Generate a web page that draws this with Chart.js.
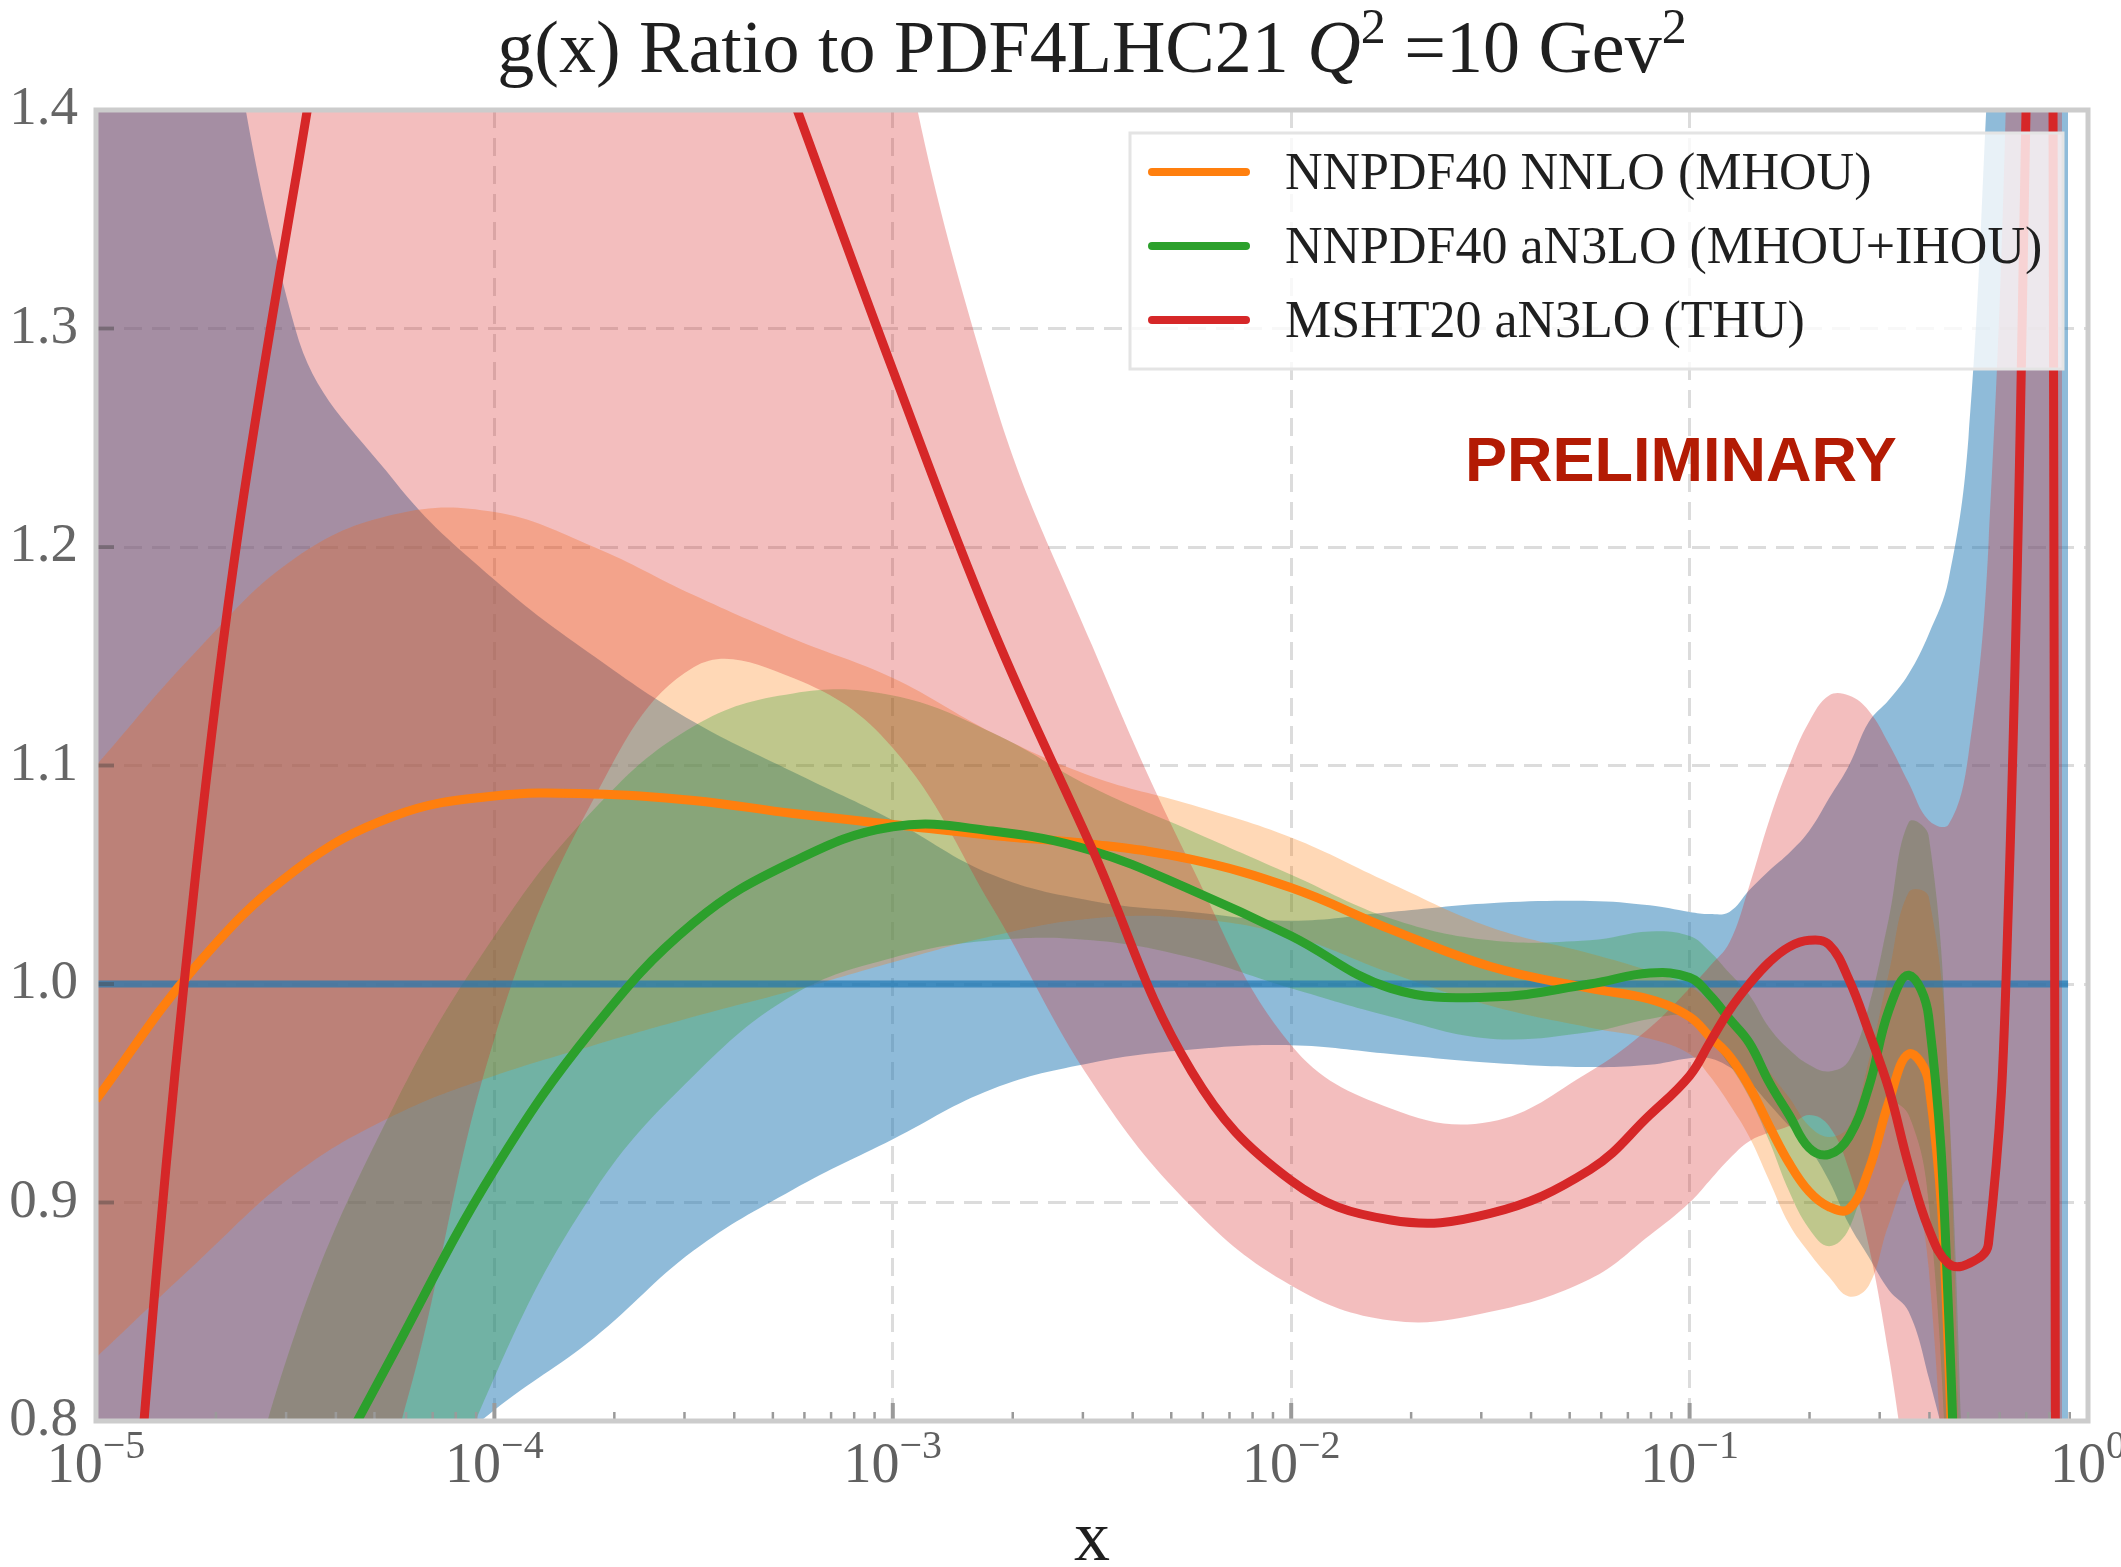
<!DOCTYPE html>
<html>
<head>
<meta charset="utf-8">
<title>g(x) Ratio to PDF4LHC21</title>
<script src="https://cdn.jsdelivr.net/npm/chart.js@4.4.1/dist/chart.umd.min.js"></script>
<style>
  html, body { margin: 0; padding: 0; background: #fff; }
</style>
</head>
<body>
<canvas id="ratioChart" width="2121" height="1567"></canvas>
<script>
// x grid, stored as log10(x)
const logX = [-5, -4.75, -4.5, -4.25, -4, -3.75, -3.5, -3.25, -3, -2.75,
  -2.5, -2.25, -2, -1.75, -1.5, -1.25, -1.1, -1, -0.95, -0.9,
  -0.85, -0.8, -0.75, -0.7, -0.65, -0.6, -0.55, -0.5, -0.45, -0.4,
  -0.35, -0.3, -0.25, -0.2, -0.15, -0.1, -0.09, -0.08, -0.065, -0.05];

// PDF4LHC21 (reference, blue)
const pdf4lhcCentral = [1, 1, 1, 1, 1, 1, 1, 1, 1, 1,
  1, 1, 1, 1, 1, 1, 1, 1, 1, 1,
  1, 1, 1, 1, 1, 1, 1, 1, 1, 1,
  1, 1, 1, 1, 1, 1, 1, 1, 1, 1];
const pdf4lhcLow = [0.55, 0.62, 0.70, 0.765, 0.805, 0.838, 0.878, 0.906, 0.929, 0.952,
  0.964, 0.970, 0.972, 0.968, 0.964, 0.962, 0.963, 0.966, 0.966, 0.962,
  0.955, 0.945, 0.935, 0.925, 0.910, 0.890, 0.875, 0.860, 0.850, 0.820,
  0.780, 0.700, 0.500, 0.300, 0.200, 0.100, 0.100, 0.100, 0.100, 0.100];
const pdf4lhcHigh = [1.90, 1.56, 1.30, 1.230, 1.185, 1.150, 1.120, 1.097, 1.075, 1.050,
  1.038, 1.033, 1.029, 1.033, 1.037, 1.038, 1.036, 1.033, 1.032, 1.033,
  1.043, 1.052, 1.060, 1.070, 1.085, 1.100, 1.120, 1.130, 1.142, 1.160,
  1.185, 1.250, 1.420, 1.600, 1.800, 2.0, 2.0, 2.0, 2.0, 2.0];

// NNPDF40 NNLO (MHOU), orange
const nnloCentral = [0.947, 1.008, 1.052, 1.077, 1.086, 1.087, 1.084, 1.078, 1.073, 1.068,
  1.064, 1.057, 1.044, 1.025, 1.008, 0.998, 0.993, 0.985, 0.976, 0.967,
  0.953, 0.935, 0.918, 0.905, 0.898, 0.897, 0.915, 0.946, 0.968, 0.955,
  0.830, 0.500, 0.300, null, null, null, null, null, null, null];
const nnloLow = [0.829, 0.872, 0.913, 0.940, 0.958, 0.972, 0.985, 0.997, 1.010, 1.022,
  1.030, 1.030, 1.022, 1.005, 0.990, 0.980, 0.975, 0.968, 0.958, 0.945,
  0.930, 0.910, 0.890, 0.877, 0.866, 0.857, 0.862, 0.890, 0.910, 0.870,
  0.700, 0.400, 0.200, null, null, null, null, null, null, null];
const nnloHigh = [1.100, 1.152, 1.195, 1.215, 1.216, 1.200, 1.178, 1.158, 1.140, 1.115,
  1.095, 1.082, 1.067, 1.046, 1.026, 1.014, 1.006, 0.999, 0.992, 0.985,
  0.975, 0.960, 0.948, 0.935, 0.930, 0.935, 0.965, 1.005, 1.042, 1.040,
  0.950, 0.600, 0.400, null, null, null, null, null, null, null];

// NNPDF40 aN3LO (MHOU+IHOU), green
const an3loCentral = [0.530, 0.640, 0.744, 0.832, 0.915, 0.980, 1.028, 1.056, 1.072, 1.070,
  1.061, 1.043, 1.022, 0.998, 0.994, 1.000, 1.005, 1.003, 0.995, 0.984,
  0.973, 0.955, 0.940, 0.925, 0.922, 0.930, 0.953, 0.988, 1.004, 0.985,
  0.850, 0.550, 0.350, null, null, null, null, null, null, null];
const an3loLow = [0.300, 0.420, 0.560, 0.700, 0.820, 0.905, 0.958, 0.995, 1.012, 1.020,
  1.020, 1.012, 0.998, 0.985, 0.975, 0.978, 0.984, 0.985, 0.975, 0.963,
  0.948, 0.928, 0.905, 0.888, 0.880, 0.888, 0.918, 0.945, 0.940, 0.900,
  0.750, 0.450, 0.250, null, null, null, null, null, null, null];
const an3loHigh = [0.550, 0.680, 0.840, 0.945, 1.022, 1.080, 1.118, 1.133, 1.132, 1.115,
  1.090, 1.070, 1.050, 1.030, 1.020, 1.020, 1.024, 1.022, 1.015, 1.005,
  0.995, 0.980, 0.970, 0.963, 0.960, 0.965, 0.990, 1.030, 1.074, 1.068,
  0.950, 0.700, 0.500, null, null, null, null, null, null, null];

// MSHT20 aN3LO (THU), red
const mshtCentral = [0.530, 1.050, 1.367, 1.580, 1.650, 1.640, 1.530, 1.405, 1.281, 1.163,
  1.062, 0.960, 0.910, 0.892, 0.895, 0.915, 0.940, 0.958, 0.973, 0.988,
  1.000, 1.010, 1.017, 1.020, 1.018, 1.002, 0.978, 0.952, 0.917, 0.888,
  0.872, 0.872, 0.881, 1.035, 1.450, 1.900, 1.600, 0.550, null, null];
const mshtLow = [0.450, 0.550, 0.680, 0.790, 0.975, 1.085, 1.145, 1.140, 1.108, 1.035,
  0.955, 0.898, 0.862, 0.846, 0.850, 0.865, 0.885, 0.900, 0.910, 0.920,
  0.928, 0.932, 0.935, 0.940, 0.935, 0.915, 0.880, 0.830, 0.770, 0.720,
  0.680, 0.600, 0.500, 0.400, 0.300, 0.200, 0.200, 0.200, 0.200, null];
const mshtHigh = [2.5, 2.5, 2.5, 2.5, 2.5, 2.5, 2.2, 1.8, 1.46, 1.27,
  1.155, 1.054, 0.972, 0.943, 0.937, 0.960, 0.980, 0.998, 1.008, 1.019,
  1.045, 1.075, 1.100, 1.120, 1.132, 1.132, 1.125, 1.110, 1.092, 1.075,
  1.073, 1.105, 1.200, 1.450, 2.000, 2.500, 2.500, 2.500, 2.500, null];

const yTicks = [0.8, 0.9, 1.0, 1.1, 1.2, 1.3, 1.4];
const xDecades = [-5, -4, -3, -2, -1, 0];

const legendItems = [
  { label: 'NNPDF40 NNLO (MHOU)', color: '#ff7f0e' },
  { label: 'NNPDF40 aN3LO (MHOU+IHOU)', color: '#2ca02c' },
  { label: 'MSHT20 aN3LO (THU)', color: '#d62728' }
];

const SERIF = '"Liberation Serif", "DejaVu Serif", serif';

function toPoints(arr) {
  return logX.map((lx, i) => ({ x: Math.pow(10, lx), y: arr[i] }))
    .filter(p => p.y !== null);
}

function lineSet(label, arr, color, width, order) {
  return {
    label: label,
    data: toPoints(arr),
    borderColor: color,
    borderWidth: width,
    pointRadius: 0,
    fill: false,
    clip: 0,
    order: order
  };
}

function bandSets(label, lo, hi, color, order) {
  return [
    { label: label + ' upper', data: toPoints(hi), borderWidth: 0, borderColor: 'transparent',
      backgroundColor: color, pointRadius: 0, fill: '+1', clip: 0, order: order },
    { label: label + ' lower', data: toPoints(lo), borderWidth: 0, borderColor: 'transparent',
      pointRadius: 0, fill: false, clip: 0, order: order }
  ];
}

function isDecade(v) {
  const l = Math.log10(v);
  return Math.abs(l - Math.round(l)) < 1e-6;
}

// inside ticks, frame, legend, texts
const decorPlugin = {
  id: 'decor',
  afterDatasetsDraw(chart) {
    const ctx = chart.ctx;
    const area = chart.chartArea;
    const xs = chart.scales.x;
    const ys = chart.scales.y;

    ctx.save();
    // y ticks inside
    ctx.strokeStyle = 'rgba(70,70,70,0.4)';
    ctx.lineWidth = 4;
    yTicks.forEach(v => {
      const py = ys.getPixelForValue(v);
      ctx.beginPath();
      ctx.moveTo(area.left, py);
      ctx.lineTo(area.left + 18, py);
      ctx.stroke();
    });
    // x ticks inside, major and minor
    ctx.strokeStyle = '#9a9a9a';
    xs.ticks.forEach(t => {
      const px = xs.getPixelForValue(t.value);
      const major = isDecade(t.value);
      ctx.lineWidth = major ? 4 : 2.5;
      ctx.beginPath();
      ctx.moveTo(px, area.bottom);
      ctx.lineTo(px, area.bottom - (major ? 18 : 9));
      ctx.stroke();
    });

    // legend box
    const bx = 1130, by = 133, bw = 933, bh = 236;
    ctx.fillStyle = 'rgba(255,255,255,0.8)';
    ctx.fillRect(bx, by, bw, bh);
    ctx.strokeStyle = '#e4e4e4';
    ctx.lineWidth = 3;
    ctx.strokeRect(bx, by, bw, bh);
    ctx.font = '52px ' + SERIF;
    ctx.textBaseline = 'alphabetic';
    ctx.textAlign = 'left';
    legendItems.forEach((item, i) => {
      const cy = 172 + i * 74;
      ctx.strokeStyle = item.color;
      ctx.lineWidth = 8;
      ctx.lineCap = 'round';
      ctx.beginPath();
      ctx.moveTo(1152, cy);
      ctx.lineTo(1246, cy);
      ctx.stroke();
      ctx.fillStyle = '#1f1f1f';
      ctx.fillText(item.label, 1285, cy + 17);
    });

    // watermark
    ctx.fillStyle = '#b31b04';
    ctx.font = 'bold 63px "Liberation Sans", Arial, sans-serif';
    ctx.fillText('PRELIMINARY', 1465, 481);
    ctx.restore();
  },
  afterDraw(chart) {
    const ctx = chart.ctx;
    const area = chart.chartArea;
    const xs = chart.scales.x;
    ctx.save();
    // frame
    ctx.strokeStyle = '#cccccc';
    ctx.lineWidth = 5;
    ctx.strokeRect(area.left, area.top, area.right - area.left, area.bottom - area.top);

    // x tick labels 10^n
    ctx.fillStyle = '#606060';
    ctx.textBaseline = 'alphabetic';
    ctx.textAlign = 'left';
    xDecades.forEach(d => {
      const px = xs.getPixelForValue(Math.pow(10, d));
      const base = '10';
      const exp = d === 0 ? '0' : '\u2212' + Math.abs(d);
      ctx.font = '56px ' + SERIF;
      const wb = ctx.measureText(base).width;
      ctx.font = '40px ' + SERIF;
      const we = ctx.measureText(exp).width;
      const x0 = px - (wb + we) / 2;
      ctx.font = '56px ' + SERIF;
      ctx.fillText(base, x0, 1482);
      ctx.font = '40px ' + SERIF;
      ctx.fillText(exp, x0 + wb, 1458);
    });

    // x axis label
    ctx.fillStyle = '#1f1f1f';
    ctx.font = '72px ' + SERIF;
    ctx.textAlign = 'center';
    ctx.fillText('x', (area.left + area.right) / 2, 1560);

    // title with italic Q and superscripts
    const parts = [
      { t: 'g(x) Ratio to PDF4LHC21 ', f: '74px ' + SERIF, dy: 0 },
      { t: 'Q', f: 'italic 74px ' + SERIF, dy: 0 },
      { t: '2', f: '50px ' + SERIF, dy: -29 },
      { t: ' =10 Gev', f: '74px ' + SERIF, dy: 0 },
      { t: '2', f: '50px ' + SERIF, dy: -29 }
    ];
    ctx.textAlign = 'left';
    let total = 0;
    parts.forEach(p => { ctx.font = p.f; p.w = ctx.measureText(p.t).width; total += p.w; });
    let cx = (area.left + area.right) / 2 - total / 2;
    parts.forEach(p => {
      ctx.font = p.f;
      ctx.fillText(p.t, cx, 72 + p.dy);
      cx += p.w;
    });
    ctx.restore();
  }
};

const datasets = [
  lineSet('MSHT20 aN3LO (THU)', mshtCentral, '#d62728', 9, 1),
  lineSet('NNPDF40 aN3LO (MHOU+IHOU)', an3loCentral, '#2ca02c', 9, 2),
  lineSet('NNPDF40 NNLO (MHOU)', nnloCentral, '#ff7f0e', 9, 3),
  lineSet('PDF4LHC21', pdf4lhcCentral, 'rgba(31,119,180,0.7)', 7, 4),
  ...bandSets('MSHT20', mshtLow, mshtHigh, 'rgba(214,39,40,0.3)', 5),
  ...bandSets('NNPDF40 aN3LO', an3loLow, an3loHigh, 'rgba(44,160,44,0.3)', 6),
  ...bandSets('NNPDF40 NNLO', nnloLow, nnloHigh, 'rgba(255,127,14,0.3)', 7),
  ...bandSets('PDF4LHC21', pdf4lhcLow, pdf4lhcHigh, 'rgba(31,119,180,0.5)', 8)
];

new Chart(document.getElementById('ratioChart'), {
  type: 'line',
  data: { datasets: datasets },
  options: {
    responsive: false,
    animation: false,
    devicePixelRatio: 1,
    layout: { padding: { top: 110, right: 33, left: 0, bottom: 0 } },
    elements: {
      point: { radius: 0 },
      line: { tension: 0.4, capBezierPoints: false }
    },
    plugins: {
      legend: { display: false },
      title: { display: false },
      tooltip: { enabled: false }
    },
    scales: {
      x: {
        type: 'logarithmic',
        min: 1e-5,
        max: 1,
        afterBuildTicks: scale => {
          const ticks = [];
          for (let d = -5; d < 0; d++) {
            for (let m = 1; m < 10; m++) ticks.push({ value: m * Math.pow(10, d) });
          }
          ticks.push({ value: 1 });
          scale.ticks = ticks;
        },
        afterFit: scale => { scale.height = 146; },
        ticks: { display: false },
        grid: {
          color: c => (c.tick && isDecade(c.tick.value)) ? '#dcdcdc' : 'transparent',
          lineWidth: 3,
          drawTicks: false
        },
        border: { display: false, dash: [18, 10] }
      },
      y: {
        min: 0.8,
        max: 1.4,
        afterFit: scale => { scale.width = 96; },
        ticks: {
          stepSize: 0.1,
          padding: 18,
          color: '#666666',
          font: { family: SERIF, size: 55 },
          callback: v => v.toFixed(1)
        },
        grid: { color: '#dcdcdc', lineWidth: 3, drawTicks: false },
        border: { display: false, dash: [18, 10] }
      }
    }
  },
  plugins: [decorPlugin]
});
</script>
</body>
</html>
